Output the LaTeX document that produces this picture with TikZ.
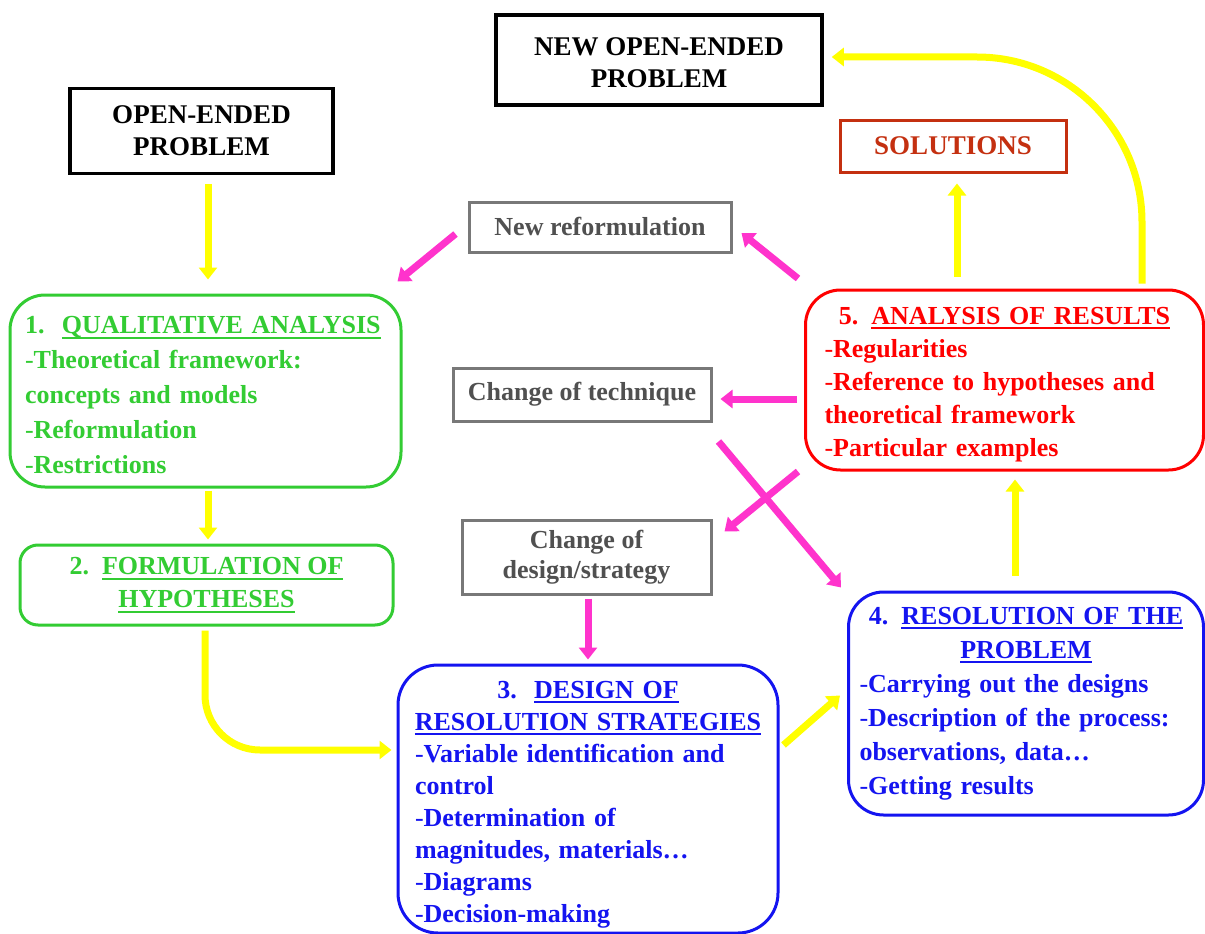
\documentclass[tikz,border=0pt]{standalone}
\usepackage{fontspec}
\setmainfont{Liberation Serif}
\usetikzlibrary{arrows.meta,calc}
\definecolor{grn}{RGB}{51,204,51}
\definecolor{blu}{RGB}{20,20,240}
\definecolor{rd}{RGB}{255,0,0}
\definecolor{solred}{RGB}{196,48,16}
\definecolor{gborder}{RGB}{120,120,120}
\definecolor{gtext}{RGB}{80,80,80}
\definecolor{yel}{RGB}{255,255,0}
\definecolor{pnk}{RGB}{255,51,204}
\newcommand{\uln}[1]{\setbox0\hbox{#1}\rlap{\rule[-5pt]{\wd0}{2pt}}\box0}
\newcommand{\dsh}{{\mdseries -}}
\begin{document}
\begin{tikzpicture}[x=1pt,y=-1pt,
  font=\bfseries\fontsize{26}{33}\selectfont,
  blackbox/.style={draw=black,line width=3.5pt,align=center,inner sep=0pt,font=\bfseries\fontsize{27}{32}\selectfont},
  graybox/.style={draw=gborder,line width=3pt,text=gtext,align=center,inner sep=0pt,font=\bfseries\fontsize{26}{30}\selectfont},
  stage/.style={line width=3pt,rounded corners=#1,inner ysep=0pt},
  yarrow/.style={draw=yel,line width=7pt,-{Triangle[width=18pt,length=12pt]}},
  parrow/.style={draw=pnk,line width=7pt,-{Triangle[width=18pt,length=12pt]}},
]
\fill[white] (0,0) rectangle (1205,934);
\useasboundingbox (0,0) rectangle (1205,934);

% top boxes
\node[blackbox,minimum width=263pt,minimum height=85pt] (open) at (201.5,131) {OPEN-ENDED\\PROBLEM};
\node[blackbox,minimum width=326pt,minimum height=90pt] (newopen) at (659,60) {\rule{0pt}{24pt}NEW OPEN-ENDED\\PROBLEM};
\node[draw=solred,text=solred,line width=3pt,inner sep=0pt,minimum width=226pt,minimum height=52pt,font=\bfseries\fontsize{27}{32}\selectfont] (sol) at (953,146) {SOLUTIONS};

% gray boxes
\node[graybox,minimum width=262pt,minimum height=50pt] (newref) at (600,227) {New reformulation};
\node[graybox,minimum width=258pt,minimum height=53pt] (tech) at (582,394.5) {Change of technique};
\node[graybox,minimum width=249pt,minimum height=74pt] (design) at (586.5,557) {Change of\\design/strategy};

% stage boxes
\node[stage=35,draw=grn,text=grn,text width=361pt,inner xsep=15pt,minimum width=391pt,minimum height=192pt,align=left,font=\bfseries\fontsize{26}{35}\selectfont] (q1) at (205.5,391)
 {\rule{0pt}{26pt}1.\ \ \uln{QUALITATIVE ANALYSIS}\\\dsh Theoretical framework:\\concepts and models\\\dsh Reformulation\\\dsh Restrictions};

\node[stage=18,draw=grn,text=grn,minimum width=373pt,minimum height=80pt,align=center] (q2) at (206.5,585)
 {2.\ \ \uln{FORMULATION OF}\\\uln{HYPOTHESES}};

\node[stage=40,draw=blu,text=blu,text width=346pt,inner xsep=17pt,minimum width=380pt,minimum height=268pt,align=left,font=\bfseries\fontsize{26}{32}\selectfont] (q3) at (588,799)
 {\makebox[\hsize]{\rule{0pt}{28pt}3.\ \ \uln{DESIGN OF}}\\\makebox[\hsize]{\uln{RESOLUTION STRATEGIES}}\\\mbox{\dsh Variable identification and}\\control\\\dsh Determination of\\\mbox{magnitudes, materials…}\\\dsh Diagrams\\\dsh Decision-making};

\node[stage=35,draw=blu,text=blu,text width=333pt,inner xsep=11pt,minimum width=355pt,minimum height=223pt,align=left,font=\bfseries\fontsize{26}{34}\selectfont] (q4) at (1026,703.5)
 {\makebox[\hsize]{4. \uln{RESOLUTION OF THE}}\\\makebox[\hsize]{\uln{PROBLEM}}\\\mbox{\dsh Carrying out the designs}\\\mbox{\dsh Description of the process:}\\\mbox{observations, data…}\\\dsh Getting results};

\node[stage=35,draw=rd,text=rd,text width=360pt,inner xsep=19pt,minimum width=398pt,minimum height=180pt,align=left,font=\bfseries\fontsize{26}{33}\selectfont] (q5) at (1004.5,380)
 {\makebox[\hsize]{\rule{0pt}{26pt}5. \uln{ANALYSIS OF RESULTS}}\\\dsh Regularities\\\mbox{\dsh Reference to hypotheses and}\\theoretical framework\\\dsh Particular examples};

% yellow arrows
\draw[yarrow] ($(open.south)+(6.5,8.5)$) -- ($(q1.north)+(2.5,-14)$);
\draw[yarrow] ($(q1.south)+(2.5,2)$) -- ($(q2.north)+(1.5,-4)$);
\draw[yarrow,rounded corners=55pt] ($(q2.south)+(-1.5,4)$) |- ($(q3.west)+(-5,-49)$);
\draw[yarrow] ($(q3.east)+(4,-54)$) -- ($(q4.west)+(-7,-8)$);
\draw[yarrow] ($(q4.north)+(-11,-15)$) -- ($(q5.south)+(10.5,8)$);
\draw[yarrow] ($(q5.north)+(-47.5,-12)$) -- ($(sol.south)+(4,10)$);
\draw[yarrow,rounded corners=165pt] ($(q5.north)+(137.5,-5)$) |- ($(newopen.east)+(8,-3)$);

% pink arrows
\draw[parrow] ($(q5.north west)+(-6,-10)$) -- ($(newref.east)+(9,6)$);
\draw[parrow] ($(newref.west)+(-12,7)$) -- ($(q1.north east)+(-5,-12)$);
\draw[parrow] ($(q5.west)+(-7,19)$) -- ($(tech.east)+(8,4.5)$);
\draw[parrow] ($(q5.south west)+(-6,0)$) -- ($(design.north east)+(12,13)$);
\draw[parrow] ($(tech.south east)+(6,19)$) -- ($(q4.north west)+(-6,-3)$);
\draw[parrow] ($(design.south)+(1.5,3)$) -- ($(q3.north)+(0,-4)$);
\end{tikzpicture}
\end{document}
